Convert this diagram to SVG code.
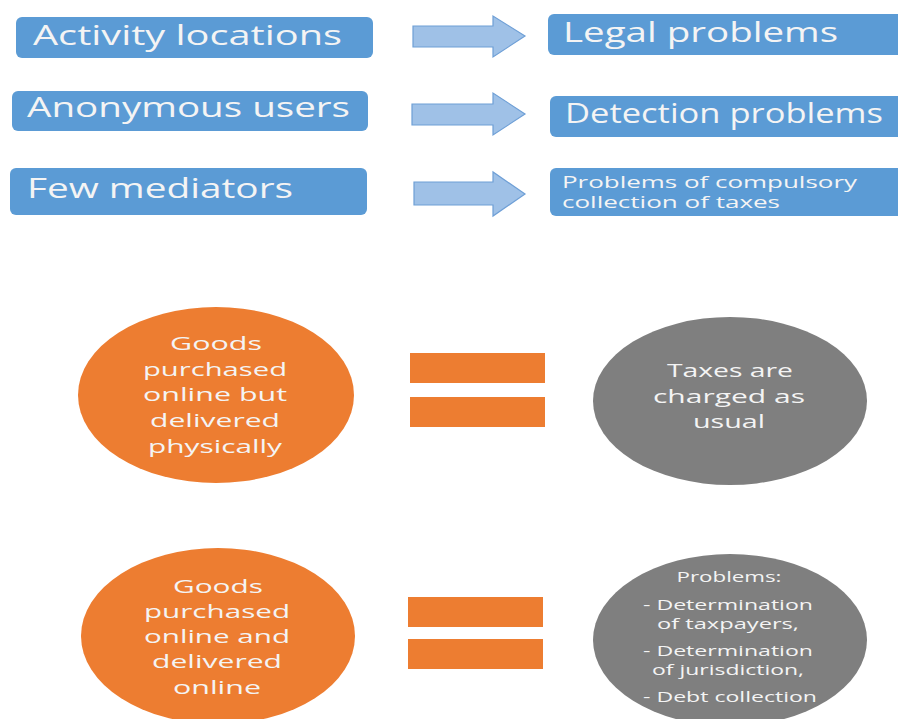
<svg xmlns="http://www.w3.org/2000/svg" width="898" height="719" viewBox="0 0 898 719">
<style>
.box{fill:#5B9BD5;}
.arr{fill:#9FC1E7;stroke:#6E9FD6;stroke-width:1.2;}
.org{fill:#ED7D31;}
.gry{fill:#7F7F7F;}
text{font-family:"Open Sans","Noto Sans","Liberation Sans",sans-serif;fill:#F4F4F4;}
.big{font-size:27px;}
.mid{font-size:19px;text-anchor:middle;}
.sm{font-size:16px;}
.xs{font-size:14px;text-anchor:middle;}
</style>
<g id="connectors">
<path class="arr" d="M413,26 H493 V16 L525,36 L493,57 V47 H413 Z"/>
<path class="arr" d="M412,104 H493 V93 L525,114 L493,135 V125 H412 Z"/>
<path class="arr" d="M414,182 H493 V172 L525,194 L493,216 V205 H414 Z"/>
</g>
<g id="activity-locations">
<rect class="box" x="16" y="17" width="357" height="41" rx="6"/>
<text class="big" x="33" y="45" textLength="309" lengthAdjust="spacingAndGlyphs">Activity locations</text>
</g>
<g id="anonymous-users">
<rect class="box" x="12" y="91" width="356" height="40" rx="6"/>
<text class="big" x="27" y="117" textLength="323" lengthAdjust="spacingAndGlyphs">Anonymous users</text>
</g>
<g id="few-mediators">
<rect class="box" x="10" y="168" width="357" height="47" rx="6"/>
<text class="big" x="27" y="198" textLength="266" lengthAdjust="spacingAndGlyphs">Few mediators</text>
</g>
<g id="legal-problems">
<rect class="box" x="548" y="14" width="360" height="41" rx="6"/>
<text class="big" x="563" y="42" textLength="275" lengthAdjust="spacingAndGlyphs">Legal problems</text>
</g>
<g id="detection-problems">
<rect class="box" x="550" y="96" width="360" height="41" rx="6"/>
<text class="big" x="565" y="123" textLength="318" lengthAdjust="spacingAndGlyphs">Detection problems</text>
</g>
<g id="compulsory-collection">
<rect class="box" x="550" y="168" width="360" height="48" rx="6"/>
<text class="sm" x="562" y="188" textLength="295" lengthAdjust="spacingAndGlyphs">Problems of compulsory</text>
<text class="sm" x="562" y="208" textLength="218" lengthAdjust="spacingAndGlyphs">collection of taxes</text>
</g>
<g id="physical-goods">
<ellipse class="org" cx="216" cy="395" rx="138" ry="88"/>
<text class="mid" x="216" y="350" textLength="92" lengthAdjust="spacingAndGlyphs">Goods</text>
<text class="mid" x="215" y="376" textLength="144" lengthAdjust="spacingAndGlyphs">purchased</text>
<text class="mid" x="215" y="401" textLength="144" lengthAdjust="spacingAndGlyphs">online but</text>
<text class="mid" x="215" y="427" textLength="130" lengthAdjust="spacingAndGlyphs">delivered</text>
<text class="mid" x="215" y="453" textLength="134" lengthAdjust="spacingAndGlyphs">physically</text>
</g>
<g id="equals-1">
<rect class="org" x="410" y="353" width="135" height="30"/>
<rect class="org" x="410" y="397" width="135" height="30"/>
</g>
<g id="taxes-usual">
<ellipse class="gry" cx="730" cy="401" rx="137" ry="84"/>
<text class="mid" x="730" y="377" textLength="126" lengthAdjust="spacingAndGlyphs">Taxes are</text>
<text class="mid" x="729" y="403" textLength="152" lengthAdjust="spacingAndGlyphs">charged as</text>
<text class="mid" x="729" y="428" textLength="72" lengthAdjust="spacingAndGlyphs">usual</text>
</g>
<g id="online-goods">
<ellipse class="org" cx="218" cy="636" rx="137" ry="88"/>
<text class="mid" x="218" y="593" textLength="90" lengthAdjust="spacingAndGlyphs">Goods</text>
<text class="mid" x="217" y="618" textLength="146" lengthAdjust="spacingAndGlyphs">purchased</text>
<text class="mid" x="217" y="643" textLength="146" lengthAdjust="spacingAndGlyphs">online and</text>
<text class="mid" x="217" y="668" textLength="130" lengthAdjust="spacingAndGlyphs">delivered</text>
<text class="mid" x="217" y="694" textLength="88" lengthAdjust="spacingAndGlyphs">online</text>
</g>
<g id="equals-2">
<rect class="org" x="408" y="597" width="135" height="30"/>
<rect class="org" x="408" y="639" width="135" height="30"/>
</g>
<g id="problems">
<ellipse class="gry" cx="730" cy="640" rx="137" ry="86"/>
<text class="xs" x="729" y="582" textLength="105" lengthAdjust="spacingAndGlyphs">Problems:</text>
<text class="xs" x="728" y="610" textLength="170" lengthAdjust="spacingAndGlyphs">- Determination</text>
<text class="xs" x="728" y="629" textLength="142" lengthAdjust="spacingAndGlyphs">of taxpayers,</text>
<text class="xs" x="728" y="656" textLength="170" lengthAdjust="spacingAndGlyphs">- Determination</text>
<text class="xs" x="728" y="675" textLength="152" lengthAdjust="spacingAndGlyphs">of jurisdiction,</text>
<text class="xs" x="730" y="702" textLength="174" lengthAdjust="spacingAndGlyphs">- Debt collection</text>
</g>
</svg>
